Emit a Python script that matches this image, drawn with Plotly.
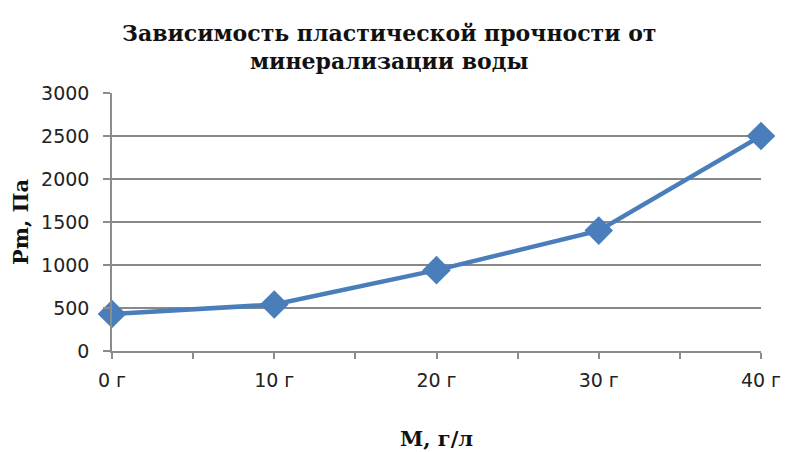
import plotly.graph_objects as go

x_vals = [0, 10, 20, 30, 40]
x_labels = ["0 г", "10 г", "20 г", "30 г", "40 г"]
pm_values = [430, 540, 940, 1400, 2500]
y_ticks = [0, 500, 1000, 1500, 2000, 2500, 3000]

fig = go.Figure()
fig.add_trace(go.Scatter(
    x=x_vals, y=pm_values, mode="lines+markers",
    line=dict(color="#4a7ebb", width=4.5),
    marker=dict(symbol="diamond", size=22, color="#4a7ebb"),
    showlegend=False, cliponaxis=False,
))

fig.update_layout(
    width=791, height=452,
    margin=dict(l=104, r=38, t=85, b=109),
    paper_bgcolor="white", plot_bgcolor="white",
    title=dict(
        text="Зависимость пластической прочности от<br>минерализации воды",
        x=0.482, xanchor="center", y=0.928, yanchor="top",
        font=dict(family="DejaVu Serif", size=22, color="#111111", weight="bold"),
    ),
    xaxis=dict(
        range=[0, 40], tickvals=x_vals, ticktext=x_labels,
        showgrid=False, zeroline=False, automargin=False,
        showline=True, linecolor="#8c8c8c", linewidth=1.5,
        ticks="outside", ticklen=6, tickcolor="#8c8c8c", tickwidth=1.5,
        minor=dict(tickvals=[5, 15, 25, 35], ticks="outside", ticklen=6,
                   tickcolor="#8c8c8c", tickwidth=1.5, showgrid=False),
        ticklabelstandoff=5,
        tickfont=dict(family="DejaVu Sans", size=19, color="#222222"),
        title=dict(text="M, г/л", standoff=42,
                   font=dict(family="DejaVu Serif", size=21, color="#111111", weight="bold")),
    ),
    yaxis=dict(
        range=[0, 3000], tickvals=y_ticks,
        showgrid=True, gridcolor="#888888", gridwidth=1.5,
        zeroline=False, automargin=False,
        showline=True, linecolor="#8c8c8c", linewidth=1.5,
        ticks="outside", ticklen=7, tickcolor="#8c8c8c", tickwidth=1.5,
        ticklabelstandoff=10,
        tickfont=dict(family="DejaVu Sans", size=19, color="#222222"),
        title=dict(text="Pm, Па", standoff=9,
                   font=dict(family="DejaVu Serif", size=21, color="#111111", weight="bold")),
    ),
)

fig.write_html("out.html")
